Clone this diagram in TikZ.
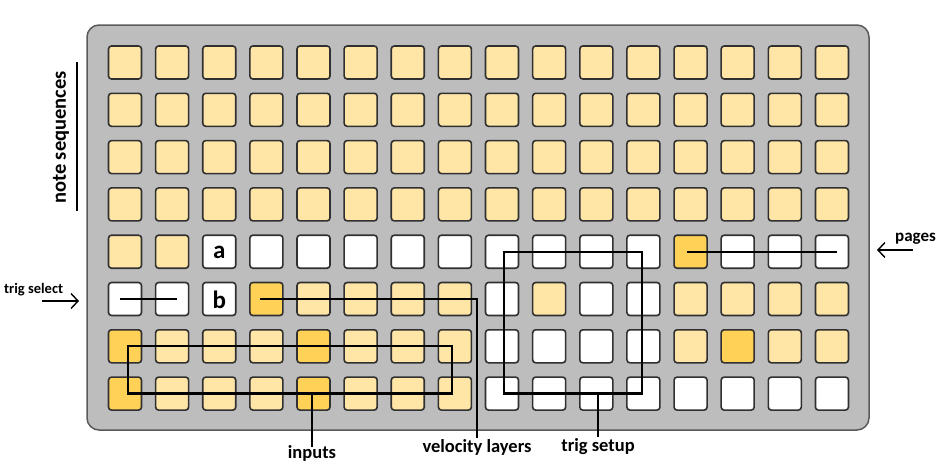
\documentclass[tikz,border=0pt]{standalone}
\usepackage{fontspec}
\setmainfont{Carlito}
\usetikzlibrary{arrows.meta}
\definecolor{lite}{HTML}{FFE5A6}
\definecolor{dark}{HTML}{FFD257}
\definecolor{panelgray}{HTML}{BDBDBD}
\definecolor{panelline}{HTML}{5A5A5A}
\definecolor{btnline}{HTML}{303030}
\tikzset{
  btn/.style={draw=btnline, line width=1.6pt, rounded corners=3pt, minimum size=33pt, inner sep=0pt},
  wire/.style={line width=2.3pt, black},
  biglabel/.style={font=\fontsize{18.5}{20}\selectfont\bfseries, inner sep=1pt},
  smalllabel/.style={font=\fontsize{14.5}{16}\selectfont\bfseries, inner sep=0pt},
  keylabel/.style={font=\fontsize{25}{26}\selectfont\bfseries, inner sep=0pt},
  sidearrow/.style={line width=1.4pt, -{Straight Barb[length=7pt,width=15pt,line width=1.4pt]}},
}
\begin{document}
\begin{tikzpicture}[x=1pt,y=-1pt]
\useasboundingbox (0,0) rectangle (943,471);
% panel
\draw[fill=panelgray, draw=panelline, line width=1.5pt, rounded corners=12pt] (87,25) rectangle (869,430);
% buttons
\foreach \r/\cols in {
 1/{lite,lite,lite,lite,lite,lite,lite,lite,lite,lite,lite,lite,lite,lite,lite,lite},
 2/{lite,lite,lite,lite,lite,lite,lite,lite,lite,lite,lite,lite,lite,lite,lite,lite},
 3/{lite,lite,lite,lite,lite,lite,lite,lite,lite,lite,lite,lite,lite,lite,lite,lite},
 4/{lite,lite,lite,lite,lite,lite,lite,lite,lite,lite,lite,lite,lite,lite,lite,lite},
 5/{lite,lite,white,white,white,white,white,white,white,white,white,white,dark,white,white,white},
 6/{white,white,white,dark,lite,lite,lite,lite,white,lite,white,white,lite,lite,lite,lite},
 7/{dark,lite,lite,lite,dark,lite,lite,lite,white,white,white,white,lite,dark,lite,lite},
 8/{dark,lite,lite,lite,dark,lite,lite,lite,white,white,white,white,white,white,white,white}}{
  \foreach \col [count=\i] in \cols {
    \node[btn, fill=\col] (b-\r-\i) at ({125+47.13*(\i-1)},{62.5+47.3*(\r-1)}) {};
  }
}
\node[keylabel] (ka) at ([yshift=-1pt]b-5-3.center) {a};
\node[keylabel] (kb) at ([yshift=-1pt]b-6-3.center) {b};
% labels
\node[biglabel, anchor=north] (inp) at (312,444) {inputs};
\node[biglabel, anchor=north] (vel) at (477,438) {velocity layers};
\node[biglabel, anchor=north] (tset) at (598,437) {trig setup};
\node[smalllabel, anchor=base west] (tsel) at (4,293) {trig select};
\node[smalllabel, font=\fontsize{17}{18}\selectfont\bfseries, anchor=base west] (pg) at (895,241) {pages};
\node[font=\fontsize{20.5}{22}\selectfont\bfseries, rotate=90, inner sep=0pt] (nseq) at (61,137.5) {note sequences};
% connectors
\draw[wire] ([xshift=-5pt]b-6-1.center) -- ([xshift=5pt]b-6-2.center);
\draw[wire] ([xshift=-6pt]b-6-4.center) -| (vel.north);
\draw[wire] ([xshift=3pt]b-7-1.center) rectangle ([xshift=-3pt]b-8-8.center);
\draw[wire] (inp.north |- b-8-5.center) -- ([yshift=-3pt]inp.north);
\draw[wire] ([xshift=2pt]b-5-9.center) rectangle ([xshift=-1.5pt]b-8-12.center);
\draw[wire] (tset.north |- b-8-12.center) -- (tset.north);
\draw[wire] ([xshift=-4pt]b-5-13.center) -- ([xshift=5pt]b-5-16.center);
% side arrows
\coordinate (tsA) at (42,301);
\coordinate (tsB) at (79,301);
\draw[sidearrow] (tsA) -- (tsB);
\coordinate (pgA) at (913,250);
\coordinate (pgB) at (877,250);
\draw[sidearrow] (pgA) -- (pgB);
\coordinate (nsA) at (77,62);
\coordinate (nsB) at (77,211);
\draw[line width=1.5pt] (nsA) -- (nsB);
\end{tikzpicture}
\end{document}
